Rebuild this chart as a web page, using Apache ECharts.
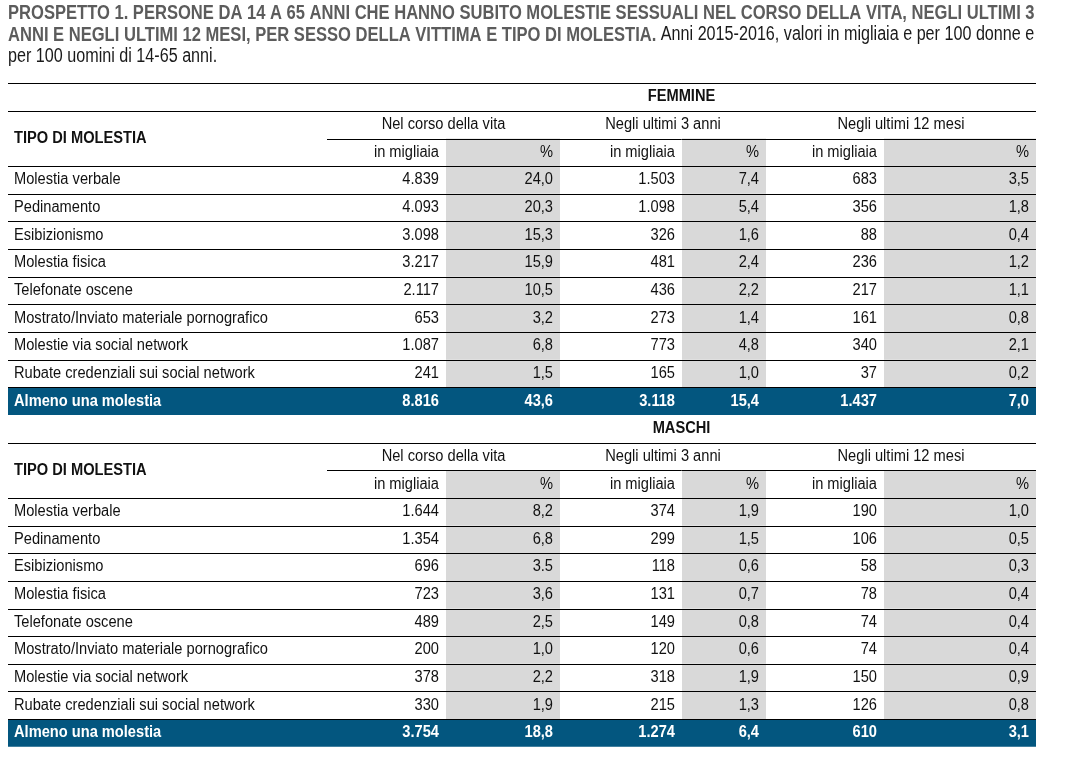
<!DOCTYPE html>
<html>
<head>
<meta charset="utf-8">
<script src="https://cdn.jsdelivr.net/npm/echarts@6/dist/echarts.min.js"></script>
<style>
html,body{margin:0;padding:0;background:#fff;}
#chart{width:1084px;height:758px;}
</style>
</head>
<body>
<div id="chart"></div>
<script>
// ---------- DATA ----------
const titleBold1 = 'PROSPETTO 1. PERSONE DA 14 A 65 ANNI CHE HANNO SUBITO MOLESTIE SESSUALI NEL CORSO DELLA VITA, NEGLI ULTIMI 3';
const titleBold2 = 'ANNI E NEGLI ULTIMI 12 MESI, PER SESSO DELLA VITTIMA E TIPO DI MOLESTIA.';
const titleNorm2 = ' Anni 2015-2016, valori in migliaia e per 100 donne e';
const titleNorm3 = 'per 100 uomini di 14-65 anni.';

const sections = ['FEMMINE', 'MASCHI'];
const rowHeader = 'TIPO DI MOLESTIA';
const periods = ['Nel corso della vita', 'Negli ultimi 3 anni', 'Negli ultimi 12 mesi'];
const subHeaders = ['in migliaia', '%'];
const categories = [
  'Molestia verbale', 'Pedinamento', 'Esibizionismo', 'Molestia fisica',
  'Telefonate oscene', 'Mostrato/Inviato materiale pornografico',
  'Molestie via social network', 'Rubate credenziali sui social network'
];
const totalLabel = 'Almeno una molestia';

// Femmine
const femLifeThous = [4839, 4093, 3098, 3217, 2117, 653, 1087, 241];
const femLifePct   = [24.0, 20.3, 15.3, 15.9, 10.5, 3.2, 6.8, 1.5];
const fem3yThous   = [1503, 1098, 326, 481, 436, 273, 773, 165];
const fem3yPct     = [7.4, 5.4, 1.6, 2.4, 2.2, 1.4, 4.8, 1.0];
const fem12mThous  = [683, 356, 88, 236, 217, 161, 340, 37];
const fem12mPct    = [3.5, 1.8, 0.4, 1.2, 1.1, 0.8, 2.1, 0.2];
const femTotals    = [8816, 43.6, 3118, 15.4, 1437, 7.0];

// Maschi
const maleLifeThous = [1644, 1354, 696, 723, 489, 200, 378, 330];
const maleLifePct   = [8.2, 6.8, '3.5', 3.6, 2.5, 1.0, 2.2, 1.9]; // '3.5' printed with a point in the source
const male3yThous   = [374, 299, 118, 131, 149, 120, 318, 215];
const male3yPct     = [1.9, 1.5, 0.6, 0.7, 0.8, 0.6, 1.9, 1.3];
const male12mThous  = [190, 106, 58, 78, 74, 74, 150, 126];
const male12mPct    = [1.0, 0.5, 0.3, 0.4, 0.4, 0.4, 0.9, 0.8];
const maleTotals    = [3754, 18.8, 1274, 6.4, 610, 3.1];

// ---------- LAYOUT / STYLE ----------
const colEdges = [8, 327, 446, 560, 682, 766, 884, 1036];
const FONT = "'Liberation Sans', Arial, sans-serif";
const FS = 16;
const NARROW = 0.915;      // horizontal squeeze to mimic a narrow face
const TITLE_FS = 20;
const TITLE_NARROW = 0.828;
const GRAY = '#d9d9d9';
const BLUE = '#03567f';
const INK = '#111111';

function fmtThous(n) {
  if (typeof n === 'string') return n;
  if (n >= 1000) {
    const k = Math.floor(n / 1000), r = n % 1000;
    return k + '.' + String(r).padStart(3, '0');
  }
  return String(n);
}
function fmtPct(n) {
  if (typeof n === 'string') return n;
  return n.toFixed(1).replace('.', ',');
}

const sectionData = [
  { name: sections[0], cols: [femLifeThous, femLifePct, fem3yThous, fem3yPct, fem12mThous, fem12mPct], totals: femTotals },
  { name: sections[1], cols: [maleLifeThous, maleLifePct, male3yThous, male3yPct, male12mThous, male12mPct], totals: maleTotals }
];

const rowInfo = [];
sectionData.forEach((sec, si) => {
  rowInfo.push({ kind: 'section', sec: si });
  rowInfo.push({ kind: 'group', sec: si });
  rowInfo.push({ kind: 'sub', sec: si });
  categories.forEach((c, i) => rowInfo.push({ kind: 'data', sec: si, i: i }));
  rowInfo.push({ kind: 'total', sec: si });
});
const rowIdx = rowInfo.map((_, i) => String(i));

function txt(text, x, y, align, opts) {
  opts = opts || {};
  return {
    type: 'text', z2: 20, x: x, y: y, scaleX: NARROW, scaleY: 1,
    style: {
      text: text, x: 0, y: 0, align: align, verticalAlign: 'middle',
      fontSize: opts.size || FS, fontFamily: FONT,
      fontWeight: opts.bold ? 'bold' : 'normal',
      fill: opts.color || INK
    }
  };
}
function hline(x1, x2, y) {
  const yy = Math.round(y) + 0.5;
  return { type: 'line', z2: 10, shape: { x1: x1, y1: yy, x2: x2, y2: yy }, style: { stroke: '#000', lineWidth: 1 } };
}
function rect(x1, x2, y1, y2, fill) {
  return { type: 'rect', z2: 0, shape: { x: x1, y: y1, width: x2 - x1, height: y2 - y1 }, style: { fill: fill } };
}

function renderItem(params, api) {
  const r = api.value(1);
  const info = rowInfo[r];
  const sec = sectionData[info.sec];
  const X = v => api.coord([v, r])[0];
  const yc = api.coord([colEdges[0], r])[1];
  const h = api.size([0, 1])[1];
  const top = yc - h / 2, bot = yc + h / 2;
  const xs = colEdges.map(X);
  const L = xs[0], R = xs[7];
  const ch = [];
  const grayCols = [2, 4, 6];

  if (info.kind === 'section') {
    if (info.sec === 0) ch.push(hline(L, R, top));
    ch.push(hline(L, R, bot));
    ch.push(txt(sec.name, (xs[1] + xs[7]) / 2, yc, 'center', { bold: true }));
  } else if (info.kind === 'group') {
    ch.push(hline(xs[1], R, bot));
    for (let p = 0; p < 3; p++) {
      ch.push(txt(periods[p], (xs[1 + 2 * p] + xs[3 + 2 * p]) / 2, yc, 'center'));
    }
    ch.push(txt(rowHeader, L + 6, bot, 'left', { bold: true }));
  } else if (info.kind === 'sub') {
    grayCols.forEach(c => ch.push(rect(xs[c], xs[c + 1], top, bot, GRAY)));
    ch.push(hline(L, R, bot));
    for (let c = 1; c <= 6; c++) {
      ch.push(txt(subHeaders[(c - 1) % 2], xs[c + 1] - 7, yc, 'right'));
    }
  } else if (info.kind === 'data') {
    grayCols.forEach(c => ch.push(rect(xs[c], xs[c + 1], top, bot, GRAY)));
    ch.push(hline(L, R, bot));
    ch.push(txt(categories[info.i], L + 6, yc, 'left'));
    for (let c = 1; c <= 6; c++) {
      const v = sec.cols[c - 1][info.i];
      const s = (c % 2 === 1) ? fmtThous(v) : fmtPct(v);
      ch.push(txt(s, xs[c + 1] - 7, yc, 'right'));
    }
  } else if (info.kind === 'total') {
    ch.push(rect(L, R, top, bot, BLUE));
    ch.push(txt(totalLabel, L + 6, yc, 'left', { bold: true, color: '#ffffff' }));
    for (let c = 1; c <= 6; c++) {
      const v = sec.totals[c - 1];
      const s = (c % 2 === 1) ? fmtThous(v) : fmtPct(v);
      ch.push(txt(s, xs[c + 1] - 7, yc, 'right', { bold: true, color: '#ffffff' }));
    }
  }
  return { type: 'group', children: ch };
}

const chart = echarts.init(document.getElementById('chart'), null, { renderer: 'canvas' });
chart.setOption({
  animation: false,
  backgroundColor: '#ffffff',
  graphic: [{
    type: 'text',
    x: 8, y: 2,
    scaleX: TITLE_NARROW, scaleY: 1,
    silent: true,
    style: {
      text: '{b|' + titleBold1 + '}\n{b|' + titleBold2 + '}{n|' + titleNorm2 + '}\n{n|' + titleNorm3 + '}',
      x: 0, y: 0, align: 'left', verticalAlign: 'top',
      rich: {
        b: { fontFamily: FONT, fontSize: TITLE_FS, fontWeight: 'bold', fill: '#5c5c5c', lineHeight: 22 },
        n: { fontFamily: FONT, fontSize: 19.5, fontWeight: 'normal', fill: '#1a1a1a', lineHeight: 22 }
      }
    }
  }],
  grid: { left: 8, right: 48, top: 83.2, bottom: 11.2 },
  xAxis: { type: 'value', min: colEdges[0], max: colEdges[colEdges.length - 1], show: false },
  yAxis: { type: 'category', data: rowIdx, inverse: true, show: false },
  series: [{
    type: 'custom',
    renderItem: renderItem,
    encode: { x: 0, y: 1 },
    data: rowInfo.map((_, i) => [colEdges[0], i]),
    clip: false,
    silent: true
  }]
});
</script>
</body>
</html>
